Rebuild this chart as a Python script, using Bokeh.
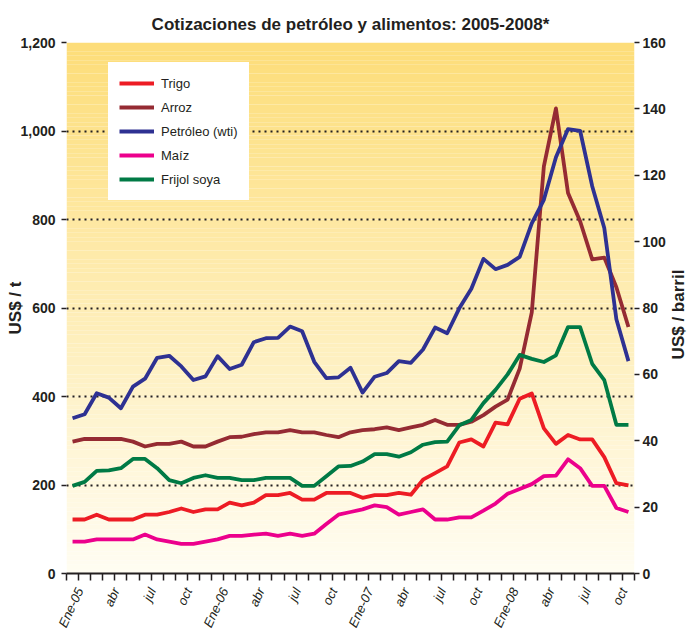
import math
from bokeh.plotting import figure
from bokeh.layouts import row
from bokeh.models import (Range1d, LinearAxis, FixedTicker, NumeralTickFormatter,
                          Legend, LegendItem, Label)
from bokeh.embed import file_html
from bokeh.resources import INLINE

# ---------------- data (monthly, Jan 2005 - Nov 2008) ----------------
months = list(range(47))
tick_months = [0, 3, 6, 9, 12, 15, 18, 21, 24, 27, 30, 33, 36, 39, 42, 45]
tick_labels = ["Ene-05", "abr", "jul", "oct", "Ene-06", "abr", "jul", "oct",
               "Ene-07", "abr", "jul", "oct", "Ene-08", "abr", "jul", "oct"]

trigo = [122, 122, 133, 122, 122, 122, 133, 133, 139, 147, 139, 145,
         145, 160, 154, 160, 177, 177, 182, 167, 167, 182, 182, 182,
         171, 177, 177, 182, 178, 212, 227, 242, 296, 303, 287, 341,
         337, 395, 407, 328, 293, 313, 303, 303, 263, 204, 199]
arroz = [298, 304, 304, 304, 304, 298, 287, 293, 293, 298, 287, 287,
         298, 308, 309, 315, 319, 319, 324, 319, 319, 313, 308, 319,
         324, 326, 330, 324, 330, 336, 347, 336, 336, 343, 358, 377,
         393, 463, 590, 920, 1051, 860, 796, 710, 714, 647, 557]
petroleo = [46.8, 48.0, 54.3, 53.0, 49.8, 56.3, 58.7, 65.0, 65.6, 62.4, 58.3, 59.4,
            65.5, 61.6, 62.9, 69.7, 70.9, 71.0, 74.4, 73.0, 63.8, 58.9, 59.1, 62.0,
            54.5, 59.3, 60.4, 64.0, 63.5, 67.5, 74.1, 72.4, 79.9, 85.8, 94.8, 91.7,
            93.0, 95.4, 105.5, 112.6, 125.4, 133.9, 133.4, 116.7, 104.1, 76.6, 64.0]
maiz = [72, 72, 77, 77, 77, 77, 88, 77, 72, 67, 67, 72,
        77, 85, 85, 88, 90, 85, 90, 85, 90, 112, 133, 139,
        145, 154, 150, 133, 139, 145, 122, 122, 127, 127, 142, 158,
        180, 191, 202, 220, 221, 258, 238, 198, 198, 148, 139]
soya = [198, 207, 232, 233, 238, 259, 259, 238, 211, 204, 216, 222,
        216, 216, 211, 211, 216, 216, 216, 198, 198, 220, 242, 243,
        253, 270, 270, 264, 274, 291, 297, 298, 335, 347, 385, 415,
        450, 494, 485, 478, 493, 557, 557, 474, 437, 336, 336]

left_ticks = [0, 200, 400, 600, 800, 1000, 1200]
grid_levels = [200, 400, 600, 800, 1000]
right_ticks = [0, 20, 40, 60, 80, 100, 120, 140, 160]

series_names = ["Trigo", "Arroz", "Petróleo (wti)", "Maíz", "Frijol soya"]
series_colors = ["#ED1C24", "#952B33", "#2E3192", "#EC008C", "#007A45"]

FONT = "Liberation Sans"
TXT = "#231F20"
LABEL_SHIFT = 0.6   # tick-label anchor offset (in months) to the right of the month

# ---------------- main figure ----------------
p = figure(width=668, height=635, output_backend="svg", toolbar_location=None,
           x_range=Range1d(months[0] - 0.5, months[-1] + 0.5),
           y_range=Range1d(left_ticks[0], left_ticks[-1]),
           min_border_left=66, min_border_right=32, min_border_top=42,
           min_border_bottom=59,
           title="Cotizaciones de petróleo y alimentos: 2005-2008*")
p.extra_y_ranges = {"barril": Range1d(right_ticks[0], right_ticks[-1])}
p.outline_line_color = None
p.border_fill_color = "white"
p.background_fill_color = "white"

p.title.align = "center"
p.title.text_font = FONT
p.title.text_font_size = "17px"
p.title.text_font_style = "bold"
p.title.text_color = TXT
p.title.standoff = 17

# gradient background (level "image" so grid draws above)
n = 120
y0, y1 = left_ticks[0], left_ticks[-1]
top = (253, 221, 120)
bot = (255, 253, 243)
bottoms, tops, cols = [], [], []
for k in range(n):
    b = y0 + (y1 - y0) * k / n
    t = y0 + (y1 - y0) * (k + 1) / n
    f = (k + 0.5) / n
    c = tuple(int(round(bot[j] + (top[j] - bot[j]) * f)) for j in range(3))
    bottoms.append(b); tops.append(t); cols.append("#%02x%02x%02x" % c)
bg = p.quad(left=months[0] - 0.5, right=months[-1] + 0.5, bottom=bottoms, top=tops,
            fill_color=cols, line_color=None)
bg.level = "image"

# grid
p.xgrid.visible = False
p.ygrid.ticker = FixedTicker(ticks=grid_levels)
p.ygrid.grid_line_color = "#231F20"
p.ygrid.grid_line_width = 2
p.ygrid.grid_line_dash = "2 4"

# x axis
xa = p.xaxis[0]
label_pos = [m + LABEL_SHIFT for m in tick_months]
xa.ticker = FixedTicker(ticks=label_pos,
                        minor_ticks=[m - 0.5 for m in months] + [months[-1] + 0.5])
xa.major_label_overrides = {pos: l for pos, l in zip(label_pos, tick_labels)}
xa.major_tick_line_color = None
xa.major_tick_out = 0
xa.major_tick_in = 0
xa.minor_tick_out = 7
xa.minor_tick_in = 0
xa.minor_tick_line_width = 1.5
xa.minor_tick_line_color = TXT
xa.axis_line_width = 2
xa.axis_line_color = TXT
xa.major_label_orientation = math.radians(65)
xa.major_label_standoff = 8
xa.major_label_text_font = FONT
xa.major_label_text_font_size = "13px"
xa.major_label_text_font_style = "italic"
xa.major_label_text_color = TXT

# left axis
ya = p.yaxis[0]
ya.ticker = FixedTicker(ticks=left_ticks)
ya.formatter = NumeralTickFormatter(format="0,0")
ya.axis_line_color = None
ya.major_tick_out = 5
ya.major_tick_in = 0
ya.major_tick_line_width = 1.5
ya.major_tick_line_color = TXT
ya.minor_tick_line_color = None
ya.major_label_standoff = 6
ya.major_label_text_font = FONT
ya.major_label_text_font_size = "14px"
ya.major_label_text_font_style = "bold"
ya.major_label_text_color = TXT
ya.axis_label = "US$ / t"
ya.axis_label_text_font = FONT
ya.axis_label_text_font_size = "17px"
ya.axis_label_text_font_style = "bold"
ya.axis_label_text_color = TXT
ya.axis_label_standoff = -8

# right axis (ticks and numbers)
ra = LinearAxis(y_range_name="barril", ticker=FixedTicker(ticks=right_ticks))
ra.axis_line_color = None
ra.major_tick_out = 5
ra.major_tick_in = 0
ra.major_tick_line_width = 1.5
ra.major_tick_line_color = TXT
ra.minor_tick_line_color = None
ra.major_label_standoff = 3
ra.major_label_text_font = FONT
ra.major_label_text_font_size = "14px"
ra.major_label_text_font_style = "bold"
ra.major_label_text_color = TXT
p.add_layout(ra, "right")

# lines
LW = 3.8
r_arroz = p.line(months, arroz, line_color=series_colors[1], line_width=LW, line_join="round")
r_trigo = p.line(months, trigo, line_color=series_colors[0], line_width=LW, line_join="round")
r_maiz = p.line(months, maiz, line_color=series_colors[3], line_width=LW, line_join="round")
r_soya = p.line(months, soya, line_color=series_colors[4], line_width=LW, line_join="round")
r_pet = p.line(months, petroleo, line_color=series_colors[2], line_width=LW,
               line_join="round", y_range_name="barril")

renderers = [r_trigo, r_arroz, r_pet, r_maiz, r_soya]
legend = Legend(items=[LegendItem(label=nm, renderers=[r])
                       for nm, r in zip(series_names, renderers)],
                location=(42, 373), margin=0, padding=10, spacing=4,
                glyph_width=35, glyph_height=20, label_height=20, label_standoff=7,
                border_line_color="white", border_line_alpha=1.0, border_line_width=1,
                background_fill_color="white", background_fill_alpha=1.0,
                label_text_font=FONT, label_text_font_size="13px",
                label_text_color=TXT)
p.add_layout(legend)

# ---------------- right-hand axis title strip (reads bottom-to-top) ----------------
side = figure(width=19, height=635, output_backend="svg", toolbar_location=None,
              x_range=Range1d(0, 1), y_range=Range1d(0, 1),
              x_axis_location=None, y_axis_location=None,
              min_border=0, min_border_left=0, min_border_right=0,
              min_border_top=0, min_border_bottom=0)
side.outline_line_color = None
side.grid.visible = False
side.background_fill_color = "white"
side.border_fill_color = "white"
side.add_layout(Label(x=10, y=259, x_units="screen", y_units="screen",
                      text="US$ / barril", angle=math.pi / 2,
                      text_align="center", text_baseline="middle",
                      text_font=FONT, text_font_size="17px",
                      text_font_style="bold", text_color=TXT))

layout = row(p, side, spacing=0)
open("out.html", "w").write(file_html(layout, INLINE))
